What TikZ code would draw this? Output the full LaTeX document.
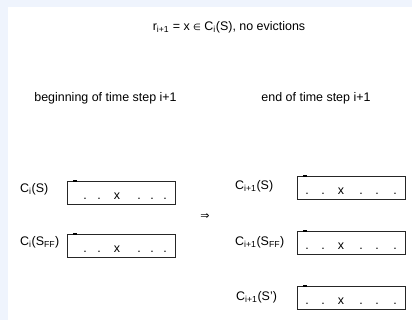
\documentclass[tikz,border=0pt]{standalone}
\usepackage{fontspec}
\setmainfont{Liberation Sans}
\newfontfamily\symfont{DejaVu Sans}
\definecolor{bgblue}{HTML}{EFF4FD}
\begin{document}
\begin{tikzpicture}[x=1bp,y=-1bp,
  font=\fontsize{12.5}{15}\selectfont,
  lbl/.style={anchor=west, inner sep=0},
  title/.style={inner sep=0},
  cachebox/.style={draw=black!85, line width=0.8bp, minimum width=108bp, minimum height=23bp, inner sep=0, anchor=north west},
  ch/.style={anchor=base, inner sep=0},
  tick/.style={line width=1.3bp, black}]
\useasboundingbox (0,0) rectangle (412,320);
\fill[bgblue] (0,0) rectangle (412,320);
\fill[white] (8,7) rectangle (412,320);

% title and headings
\node[title] (t) at (229,27) {r\textsubscript{i+1} = x {\symfont\fontsize{9}{10}\selectfont ∈} C\textsubscript{i}(S), no evictions};
\node[title] (hb) at (105.5,98) {beginning of time step i+1};
\node[title] (he) at (316,98) {end of time step i+1};

% left side
\node[lbl] (l1) at (20,189) {C\textsubscript{i}(S)};
\node[cachebox] (b1) at (67,181) {};
\node[lbl] (l2) at (20,242) {C\textsubscript{i}(S\textsubscript{FF})};
\node[cachebox] (b2) at (67,234) {};

% arrow
\node[inner sep=0] (imp) at (205,217) {\symfont\fontsize{11}{12}\selectfont ⇒};

% right side
\node[lbl] (r1) at (235,186) {C\textsubscript{i+1}(S)};
\node[cachebox] (b3) at (297,176) {};
\node[lbl] (r2) at (235,242) {C\textsubscript{i+1}(S\textsubscript{FF})};
\node[cachebox] (b4) at (297,231) {};
\node[lbl] (r3) at (236,297) {C\textsubscript{i+1}(S')};
\node[cachebox] (b5) at (297,286) {};

% contents
\foreach \b in {b1,b2}{
  \foreach \d/\c [count=\k] in {18/.,32/.,50/x,72/.,85/.,98/.}{
    \path (\b.south west) ++(\d,-5) node[ch] (\b c\k) {\c};
  }
  \draw[tick] (\b.north west) ++(6,0) -- ++(4,0);
}
\foreach \b in {b3,b4,b5}{
  \foreach \d/\c [count=\k] in {10/.,26/.,44/x,64/.,80/.,98/.}{
    \path (\b.south west) ++(\d,-5) node[ch] (\b c\k) {\c};
  }
  \draw[tick] (\b.north west) ++(6,0) -- ++(4,0);
}
\end{tikzpicture}
\end{document}
